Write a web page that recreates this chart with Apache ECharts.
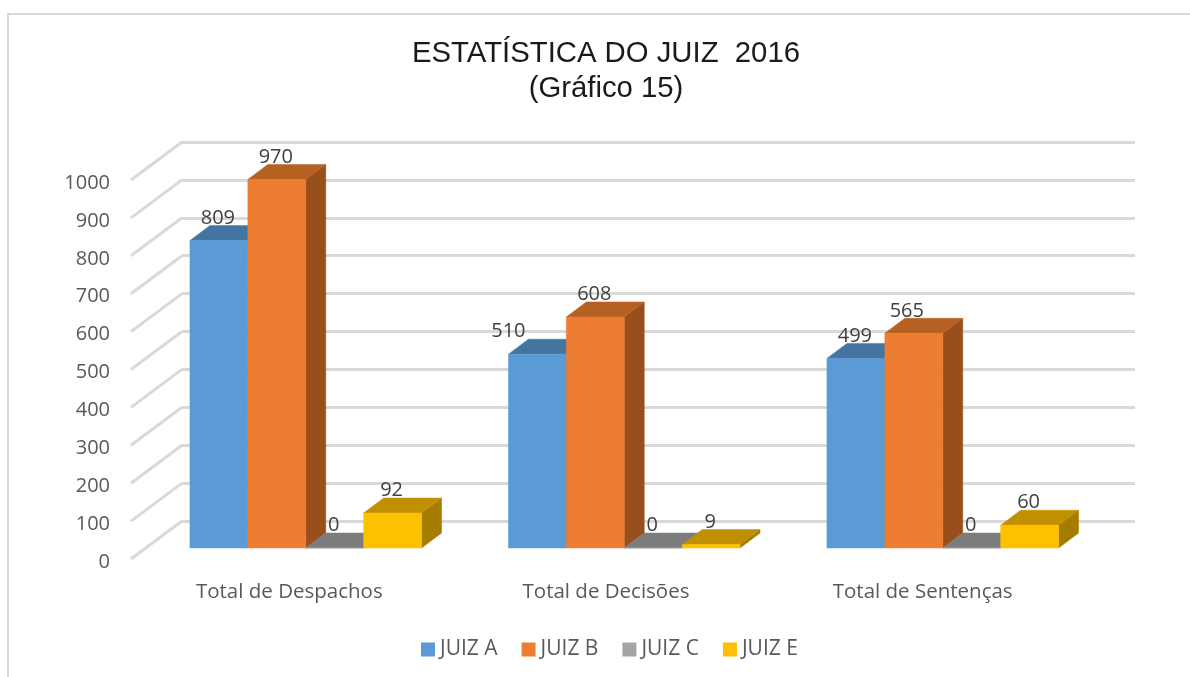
<!DOCTYPE html>
<html><head><meta charset="utf-8">
<style>html,body{margin:0;padding:0;background:#fff}#c{width:1190px;height:677px}</style>
<script src="https://cdn.jsdelivr.net/npm/echarts@6/dist/echarts.min.js"></script>
</head><body><div id="c"></div>
<script>
const categories = ['Total de Despachos', 'Total de Decisões', 'Total de Sentenças'];
const juizA = [809, 510, 499];
const juizB = [970, 608, 565];
const juizC = [0, 0, 0];
const juizE = [92, 9, 60];
const seriesNames = ['JUIZ A', 'JUIZ B', 'JUIZ C', 'JUIZ E'];
const yTicks = [0, 100, 200, 300, 400, 500, 600, 700, 800, 900, 1000];
const frontColors = ['#5b9bd5', '#ed7d31', '#a5a5a5', '#ffc000'];
const topColors = ['#4474a0', '#b66122', '#7c7c7c', '#c09000'];
const sideColors = ['#3a648a', '#984f1c', '#686868', '#a67c00'];

const FONT = '"Open Sans", sans-serif';
const depthX = 20, depthY = 15;
// label tweaks (series-category) where the original label sits off its bar
const labelShift = { '0-1': -28, '1-2': -6 };

function bar3d(seriesIdx) {
  return function (params, api) {
    const cat = api.value(0), val = api.value(1);
    const p = api.coord([cat, val]);
    const base = api.coord([cat, 0]);
    const band = api.size([1, 0])[0];
    const w = band / 5.5;
    const x0 = p[0] - 2 * w + seriesIdx * w;
    const x1 = x0 + w;
    const yT = p[1], yB = base[1];
    const shift = labelShift[seriesIdx + '-' + cat] || 0;
    const poly = (pts, fill) => ({ type: 'polygon', shape: { points: pts }, style: { fill: fill, stroke: fill, lineWidth: 0.5 } });
    return {
      type: 'group',
      children: [
        poly([[x1, yB], [x1 + depthX, yB - depthY], [x1 + depthX, yT - depthY], [x1, yT]], sideColors[seriesIdx]),
        poly([[x0, yT], [x0 + depthX, yT - depthY], [x1 + depthX, yT - depthY], [x1, yT]], topColors[seriesIdx]),
        poly([[x0, yB], [x1, yB], [x1, yT], [x0, yT]], frontColors[seriesIdx]),
        { type: 'text', style: { text: String(val), x: x0 + w / 2 - 1 + shift, y: yT - 22.5, align: 'center', verticalAlign: 'middle', font: '20px ' + FONT, fill: '#404040' } }
      ]
    };
  };
}

const values = [juizA, juizB, juizC, juizE];
const judgeSeries = seriesNames.map((name, i) => ({
  name: name,
  type: 'custom',
  xAxisIndex: 2,
  yAxisIndex: 2,
  clip: false,
  z: 5 + i,
  itemStyle: { color: frontColors[i] },
  encode: { x: 0, y: 1 },
  data: values[i].map((v, c) => [c, v]),
  renderItem: bar3d(i)
}));

const wallTicks = {
  type: 'custom',
  xAxisIndex: 1,
  yAxisIndex: 1,
  clip: false,
  z: 1,
  silent: true,
  encode: { y: 0 },
  data: yTicks.map(v => [v]),
  renderItem: function (params, api) {
    const y = api.coord([0, api.value(0)])[1];
    const x = params.coordSys.x;
    return { type: 'polyline', shape: { points: [[x - 51, y + 38], [x, y]] }, style: { stroke: '#d9d9d9', lineWidth: 3, fill: null } };
  }
};

const chart = echarts.init(document.getElementById('c'), null, { renderer: 'canvas' });
chart.setOption({
  animation: false,
  backgroundColor: '#fff',
  title: {
    text: 'ESTATÍSTICA DO JUIZ  2016\n(Gráfico 15)',
    left: 601, top: 31, textAlign: 'center',
    textStyle: { fontFamily: '"Liberation Sans"', fontSize: 29.3, fontWeight: 'normal', color: '#1a1a1a', lineHeight: 35 }
  },
  legend: {
    data: seriesNames, left: 416, top: 634, icon: 'rect', itemWidth: 14, itemHeight: 14, itemGap: 24,
    textStyle: { fontFamily: FONT, fontSize: 21, color: '#595959' }
  },
  graphic: [
    { type: 'polyline', shape: { points: [[8, 677], [8, 14], [1190, 14]] }, style: { stroke: '#d9d9d9', lineWidth: 2, fill: null }, silent: true }
  ],
  grid: [
    { left: 131, top: 183, width: 950, height: 379 },
    { left: 182, top: 142, width: 953, height: 379 },
    { left: 146.5, top: 168, width: 955.5, height: 380 }
  ],
  xAxis: [
    { gridIndex: 0, type: 'category', data: categories, axisLine: { show: false }, axisTick: { show: false },
      axisLabel: { margin: 20, fontFamily: FONT, fontSize: 20.5, color: '#595959' } },
    { gridIndex: 1, type: 'category', data: categories, axisLine: { show: false }, axisTick: { show: false }, axisLabel: { show: false } },
    { gridIndex: 2, type: 'category', data: categories, axisLine: { show: false }, axisTick: { show: false }, axisLabel: { show: false } }
  ],
  yAxis: [
    { gridIndex: 0, type: 'value', min: 0, max: 1000, interval: 100, splitLine: { show: false }, axisLine: { show: false }, axisTick: { show: false },
      axisLabel: { margin: 21, fontFamily: FONT, fontSize: 20, color: '#595959', formatter: v => String(v) } },
    { gridIndex: 1, type: 'value', min: 0, max: 1000, interval: 100, axisLine: { show: false }, axisTick: { show: false }, axisLabel: { show: false },
      splitLine: { show: true, lineStyle: { color: '#d9d9d9', width: 3 } } },
    { gridIndex: 2, type: 'value', min: 0, max: 1000, interval: 100, axisLine: { show: false }, axisTick: { show: false }, axisLabel: { show: false }, splitLine: { show: false } }
  ],
  series: [wallTicks].concat(judgeSeries)
});
</script>
</body></html>
